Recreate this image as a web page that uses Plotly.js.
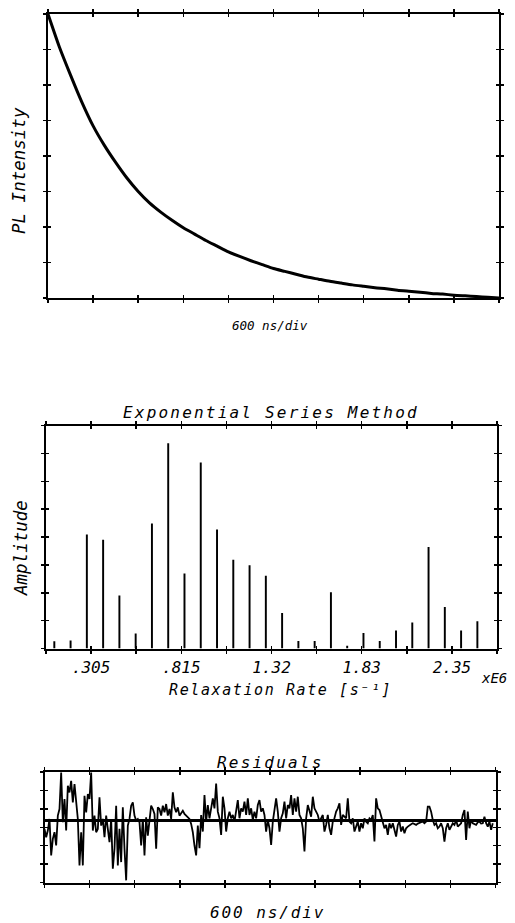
<!DOCTYPE html>
<html>
<head>
<meta charset="utf-8">
<script src="https://cdn.plot.ly/plotly-3.0.1.min.js"></script>
<style>
html,body{margin:0;padding:0;background:#fff;}
#chart{width:515px;height:923px;}
</style>
</head>
<body>
<div id="chart"></div>
<script>
// ---------------- DATA ----------------
// Top panel: photoluminescence decay (time in ns, intensity in divisions)
const decayTimeNs = [0,150,300,450,600,750,900,1050,1200,1350,1500,1650,1800,1950,2100,2250,2400,2550,2700,2850,3000,3150,3300,3450,3600,3750,3900,4050,4200,4350,4500,4650,4800,4950,5100,5250,5400,5550,5700,5850,6000];
const decayIntensity = [8.0,7.08,6.28,5.52,4.85,4.30,3.82,3.38,3.00,2.68,2.42,2.19,1.98,1.80,1.62,1.46,1.30,1.17,1.05,0.94,0.83,0.75,0.67,0.59,0.53,0.47,0.42,0.37,0.33,0.29,0.26,0.22,0.19,0.16,0.13,0.11,0.08,0.06,0.04,0.02,0.0];

// Middle panel: exponential series method amplitudes (rate in units of 1e6 s^-1)
const relaxRates = [0.097,0.189,0.281,0.373,0.465,0.557,0.649,0.741,0.833,0.925,1.017,1.109,1.201,1.293,1.385,1.477,1.569,1.661,1.753,1.845,1.937,2.029,2.121,2.213,2.305,2.397,2.489];
const amplitudes = [0.26,0.29,4.09,3.90,1.90,0.54,4.48,7.36,2.69,6.67,4.27,3.18,2.99,2.61,1.27,0.27,0.27,2.02,0.10,0.56,0.27,0.65,0.93,3.64,1.49,0.65,0.98];
const rateTickVals = [0.05,0.305,0.56,0.815,1.07,1.325,1.58,1.835,2.09,2.345,2.6];
const rateTickText = ['','.305','','.815','','1.32','','1.83','','2.35',''];

// Bottom panel: residuals (arbitrary units), sampled every 22.17 ns from t = 0
const residualStartNs = 0;
const residualStepNs = 22.17;
const residuals = [
-25,-50,-30,5,-105,-55,-35,-75,15,35,
145,-5,65,-30,105,85,120,55,110,55,
5,-135,-35,-135,75,25,80,65,145,-30,
15,-35,-25,70,-15,5,-50,15,-25,-65,
5,-145,-85,45,-135,-25,-125,40,-85,-180,
-15,5,45,55,15,0,5,-5,-75,5,
-105,10,-45,5,45,35,20,-85,40,35,
15,45,25,50,15,35,5,85,40,25,
40,15,25,30,20,15,10,5,-10,-35,
-75,-105,-15,
-83,17,-33,77,-3,47,7,37,67,37,
112,27,7,-43,72,37,-33,7,27,7,
17,-3,37,62,7,37,27,57,17,67,
17,37,2,27,7,47,62,27,37,17,
-33,2,-23,-73,-3,27,67,27,-33,7,
22,57,7,47,37,77,17,67,27,72,
17,7,-23,-93,7,47,27,12,72,37,
27,17,-3,7,17,-33,-13,17,-23,-43,
-3,7,27,37,52,-13,17,12,7,67,
-3,-8,7,-33,-18,-3,-33,-8,-23,7,
-3,-8,7,2,17,-63,67,37,32,12,
-3,-23,-13,-43,-8,-23,-8,-28,-48,-13,
-3,-33,-18,-38,-23,-18,-13,-11,-8,-10,
-13,-9,-8,-5,-3,-8,-3,42,42,27,
2,-13,-8,-23,-18,-8,-23,-63,-23,-8,
-28,-18,-8,-13,2,-18,-13,-8,17,32,
-58,27,-23,2,-8,-11,-13,-5,-3,-9,
-8,12,-8,-18,-3,-28,-8
];

// ---------------- LAYOUT HELPERS ----------------
const W = 515, H = 923;
const xd = (l, r) => [l / W, r / W];
const yd = (top, bottom) => [1 - bottom / H, 1 - top / H];
const px = x => x / W;
const py = y => 1 - y / H;

const FONT = 'DejaVu Sans Mono, Liberation Mono, monospace';
const font = (size) => ({family: FONT, size: size, color: '#000', style: 'italic'});
const spaced = (txt, s) => '<span style="letter-spacing:' + s + 'px">' + txt + '</span>';

function mainAxis(extra) {
  return Object.assign({
    showline: true, linewidth: 2, linecolor: '#000', mirror: 'ticks',
    ticks: 'outside', ticklen: 3, tickwidth: 1.5, tickcolor: '#000',
    showgrid: false, zeroline: false, showticklabels: false, fixedrange: true
  }, extra);
}
// second set of axes on top of each frame: carries the inward half of the crossing ticks
function overlayAxis(extra) {
  return Object.assign({
    showline: false, mirror: 'ticks',
    ticks: 'inside', ticklen: 3, tickwidth: 1.5, tickcolor: '#000',
    showgrid: false, zeroline: false, showticklabels: false, fixedrange: true
  }, extra);
}

const timeTicks = {range: [0, 6000], tickmode: 'linear', tick0: 0, dtick: 600};
const divTicks = {range: [0, 8], tickmode: 'linear', tick0: 0, dtick: 1};
const rateTicks = {range: [0.05, 2.6], tickmode: 'array', tickvals: rateTickVals};
const resTicks = {range: [-186.5, 146.5], tickmode: 'linear', tick0: -186.5, dtick: 55.5};

// ---------------- TRACES ----------------
const traces = [
  {type: 'scatter', mode: 'lines', x: decayTimeNs, y: decayIntensity,
   line: {color: '#000', width: 3, shape: 'spline', smoothing: 0.6},
   xaxis: 'x', yaxis: 'y', hoverinfo: 'skip', showlegend: false},
  {type: 'bar', x: relaxRates, y: amplitudes, width: 0.011,
   marker: {color: '#000', line: {width: 0}},
   xaxis: 'x2', yaxis: 'y2', hoverinfo: 'skip', showlegend: false},
  {type: 'scatter', mode: 'lines', x0: residualStartNs, dx: residualStepNs, y: residuals,
   line: {color: '#000', width: 1.8},
   xaxis: 'x3', yaxis: 'y3', hoverinfo: 'skip', showlegend: false},
  // mark-less traces that make the inner-tick overlay axes exist
  {type: 'scatter', mode: 'none', x: decayTimeNs, y: decayIntensity,
   xaxis: 'x4', yaxis: 'y4', hoverinfo: 'skip', showlegend: false},
  {type: 'scatter', mode: 'none', x: relaxRates, y: amplitudes,
   xaxis: 'x5', yaxis: 'y5', hoverinfo: 'skip', showlegend: false},
  {type: 'scatter', mode: 'none', x0: residualStartNs, dx: residualStepNs, y: residuals,
   xaxis: 'x6', yaxis: 'y6', hoverinfo: 'skip', showlegend: false}
];

const layout = {
  width: W, height: H,
  margin: {l: 0, r: 0, t: 0, b: 0, pad: 0},
  paper_bgcolor: '#fff', plot_bgcolor: 'rgba(0,0,0,0)',
  showlegend: false,
  font: font(14),
  // top panel
  xaxis: mainAxis(Object.assign({domain: xd(48, 499), anchor: 'y'}, timeTicks)),
  yaxis: mainAxis(Object.assign({domain: yd(14, 298), anchor: 'x'}, divTicks)),
  xaxis4: overlayAxis(Object.assign({overlaying: 'x', anchor: 'y4'}, timeTicks)),
  yaxis4: overlayAxis(Object.assign({overlaying: 'y', anchor: 'x4'}, divTicks)),
  // middle panel
  xaxis2: mainAxis(Object.assign({domain: xd(46, 497), anchor: 'y2',
    showticklabels: true, ticktext: rateTickText, tickfont: font(16), ticklabelstandoff: 0}, rateTicks)),
  yaxis2: mainAxis(Object.assign({domain: yd(425.5, 648.5), anchor: 'x2'}, divTicks)),
  xaxis5: overlayAxis(Object.assign({overlaying: 'x2', anchor: 'y5'}, rateTicks)),
  yaxis5: overlayAxis(Object.assign({overlaying: 'y2', anchor: 'x5'}, divTicks)),
  // bottom panel
  xaxis3: mainAxis(Object.assign({domain: xd(44.5, 495.5), anchor: 'y3'}, timeTicks)),
  yaxis3: mainAxis(Object.assign({domain: yd(772, 882.5), anchor: 'x3',
    zeroline: true, zerolinecolor: '#000', zerolinewidth: 2.5}, resTicks)),
  xaxis6: overlayAxis(Object.assign({overlaying: 'x3', anchor: 'y6'}, timeTicks)),
  yaxis6: overlayAxis(Object.assign({overlaying: 'y3', anchor: 'x6'}, resTicks)),
  annotations: [
    {text: 'PL Intensity', x: px(19), y: py(171), textangle: -90, font: font(17.5)},
    {text: '600 ns/div', x: px(270), y: py(325), font: font(12.5)},
    {text: spaced('Exponential Series Method', 2.2), x: px(271), y: py(413), font: font(16)},
    {text: 'Amplitude', x: px(21), y: py(548), textangle: -90, font: font(17.5)},
    {text: spaced('Relaxation Rate [s\u207B\u00B9]', 1.6), x: px(280), y: py(690), font: font(15)},
    {text: 'xE6', x: px(494), y: py(678), font: font(14)},
    {text: spaced('Residuals', 2.2), x: px(270), y: py(762), font: font(16)},
    {text: spaced('600 ns/div', 1.9), x: px(267), y: py(912), font: font(16)}
  ].map(a => Object.assign({xref: 'paper', yref: 'paper', xanchor: 'center', yanchor: 'middle', showarrow: false}, a))
};

Plotly.newPlot('chart', traces, layout, {staticPlot: true, displayModeBar: false});
</script>
</body>
</html>
